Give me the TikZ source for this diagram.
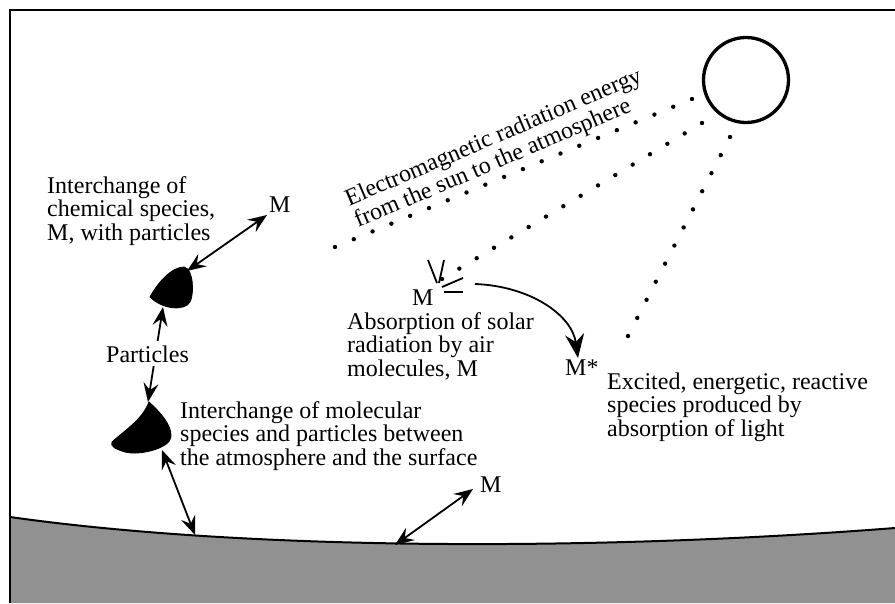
\documentclass[tikz,border=0pt]{standalone}
\usepackage{fontspec}
\setmainfont{Liberation Serif}
\usetikzlibrary{arrows.meta,calc}
\definecolor{groundgray}{RGB}{145,145,145}
\begin{document}
\begin{tikzpicture}[x=1pt,y=-1pt,
  lbl/.style={font=\fontsize{24}{23.5}\selectfont, inner sep=0pt, align=left, anchor=base west},
  dbl/.style={{Stealth[length=19pt,width=15pt,inset=7pt]}-{Stealth[length=19pt,width=15pt,inset=7pt]}, line width=1.8pt},
  thin/.style={line width=1.8pt},
  blob/.style={fill=black, draw=black, line width=0.8pt}]
\useasboundingbox (0,0) rectangle (895,603);
% ground
\fill[groundgray] (10,517) .. controls (250,551) and (600,551) .. (895,528) -- (895,603) -- (10,603) -- cycle;
\draw[line width=2pt] (10,517) .. controls (250,551) and (600,551) .. (895,528);
% frame
\draw[line width=2pt] (10,603) -- (10,10) -- (895,10);
% sun
\node[draw, circle, line width=3.3pt, minimum size=85pt, inner sep=0pt] (sun) at (746,80) {};
% dotted rays
\coordinate (r1a) at (692,99);  \coordinate (r1b) at (335,247);
\coordinate (r2a) at (702,123); \coordinate (r2b) at (442,279);
\coordinate (r3a) at (730,137); \coordinate (r3b) at (628,336);
\foreach \i in {0,...,19} \fill ($(r1a)!\i/19!(r1b)$) circle (2.2);
\foreach \i in {0,...,15} \fill ($(r2a)!\i/15!(r2b)$) circle (2.2);
\foreach \i in {0,...,11} \fill ($(r3a)!\i/11!(r3b)$) circle (2.2);
% particles
\path[blob] (150,297) .. controls (158,282) and (172,267) .. (184,267)
  .. controls (194,269) and (194,295) .. (190,302)
  .. controls (185,311) and (163,310) .. (150,297) -- cycle;
\path[blob] (149,402) .. controls (160,412) and (172,425) .. (171,437)
  .. controls (170,448) and (140,456) .. (125,452)
  .. controls (115,449) and (110,446) .. (112,442)
  .. controls (125,430) and (142,420) .. (149,402) -- cycle;
\coordinate (p1top) at (187,271);
\coordinate (p1bot) at (163,307);
\coordinate (p2top) at (148,402);
\coordinate (p2bot) at (162,450);
\coordinate (g1) at (195,535);
\coordinate (g2) at (395,545);
% texts
\node[lbl] (t1) at (47,240) {Interchange of\\chemical species,\\M, with particles};
\node[lbl] (m1) at (269,212) {M};
\node[lbl] (t4) at (180,465) {Interchange of molecular\\species and particles between\\the atmosphere and the surface};
\node[lbl] (m2) at (480,492) {M};
\node[lbl, rotate=23] (em) at (358,228) {Electromagnetic radiation energy\\from the sun to the atmosphere};
\node[lbl] (m3) at (412,305) {M};
\node[lbl] (t8) at (347,376) {Absorption of solar\\radiation by air\\molecules, M};
\node[lbl] (ms) at (565,375) {M*};
\node[lbl] (t10) at (607,436) {Excited, energetic, reactive\\species produced by\\absorption of light};
% arrows
\coordinate (m1tip) at (267,215);
\coordinate (m2tip) at (473,489);
\draw[dbl] (m1tip) -- (p1top);
\draw[dbl] (p1bot) -- (p2top);
\node[lbl, fill=white, inner xsep=1pt, inner ysep=4pt] (part) at (105,362) {Particles};
\draw[dbl] (p2bot) -- (g1);
\draw[dbl] (g2) -- (m2tip);
% absorption strokes
\draw[thin] (428,260) -- (437,283);
\draw[thin] (444,260) -- (439,283);
\draw[thin] (442,287) -- (463,278);
\draw[thin] (444,292) -- (463,292);
% excitation arrow
\coordinate (cs) at (475,284);
\coordinate (ce) at (578,358);
\draw[thin, -{Stealth[length=24pt,width=19pt,inset=8pt]}] (cs) .. controls (530,286) and (572,315) .. (ce);
\end{tikzpicture}
\end{document}
